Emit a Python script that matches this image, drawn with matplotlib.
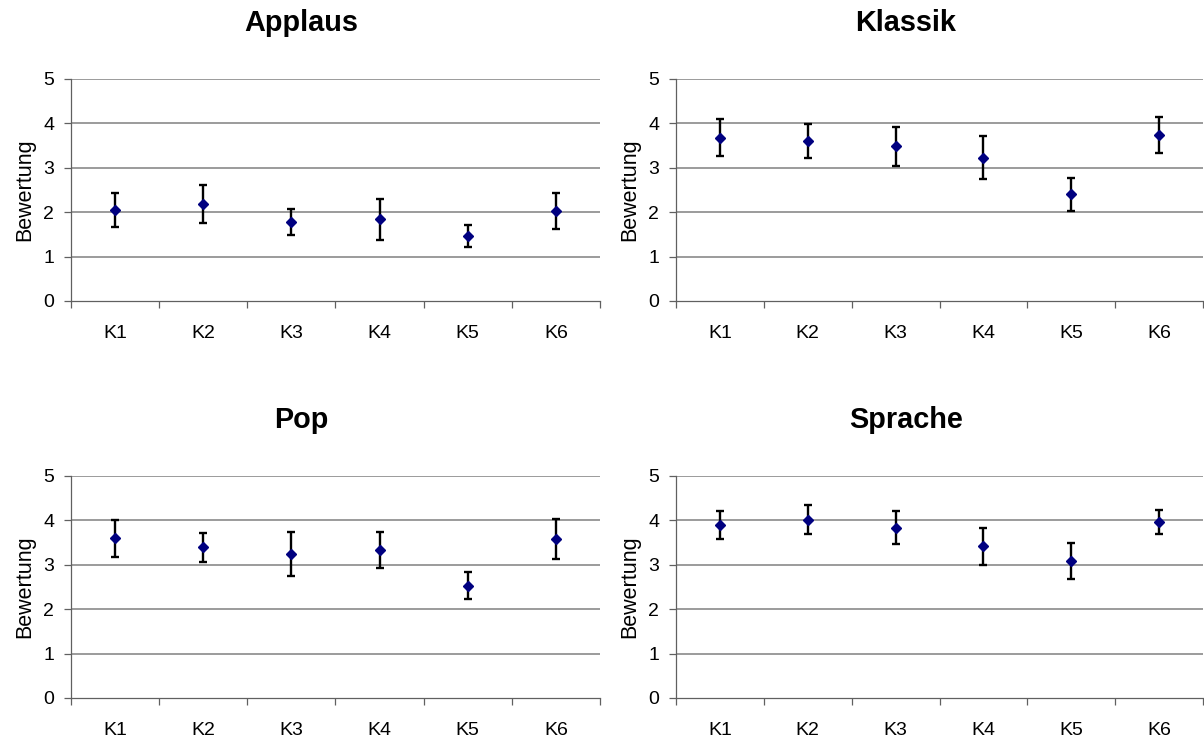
import matplotlib
matplotlib.use("Agg")
import matplotlib.pyplot as plt
import numpy as np

plt.rcParams['font.family'] = ['Liberation Sans', 'DejaVu Sans']

categories = ["K1", "K2", "K3", "K4", "K5", "K6"]
titles = ["Applaus", "Klassik", "Pop", "Sprache"]

applaus_mean = [2.05, 2.18, 1.78, 1.84, 1.47, 2.03]
applaus_err = [0.39, 0.43, 0.30, 0.46, 0.25, 0.41]
klassik_mean = [3.68, 3.60, 3.49, 3.23, 2.40, 3.74]
klassik_err = [0.41, 0.39, 0.44, 0.48, 0.37, 0.41]
pop_mean = [3.60, 3.39, 3.24, 3.33, 2.53, 3.58]
pop_err = [0.42, 0.32, 0.50, 0.41, 0.30, 0.46]
sprache_mean = [3.90, 4.02, 3.84, 3.42, 3.09, 3.97]
sprache_err = [0.31, 0.32, 0.37, 0.42, 0.40, 0.27]

means = [applaus_mean, klassik_mean, pop_mean, sprache_mean]
errs = [applaus_err, klassik_err, pop_err, sprache_err]

W, H = 1204, 740
fig = plt.figure(figsize=(W / 100, H / 100), dpi=100)

# axes rectangles in pixels: (left, top, right, bottom)
rects = [(71, 79, 600, 301), (676, 79, 1203, 301),
         (71, 476, 600, 698), (676, 476, 1203, 698)]
title_pos = [(301, 23), (906, 23), (301, 420), (906, 420)]

for i in range(4):
    l, t, r, b = rects[i]
    ax = fig.add_axes([l / W, 1 - b / H, (r - l) / W, (b - t) / H])
    x = np.arange(len(categories))
    ax.errorbar(x, means[i], yerr=errs[i], fmt='none', ecolor='black',
                elinewidth=1.7, capsize=3, capthick=1.7, zorder=3)
    ax.plot(x, means[i], linestyle='none', marker='D', markersize=5.5,
            color='#000080', zorder=4)
    ax.set_xlim(-0.5, len(categories) - 0.5)
    ax.set_ylim(0, 5)
    ax.set_yticks(range(0, 6))
    ax.set_xticks(x)
    ax.set_xticklabels(categories)
    ax.set_xticks(np.arange(-0.5, len(categories), 1.0), minor=True)
    ax.tick_params(axis='x', which='major', length=0, pad=17, labelsize=14)
    ax.tick_params(axis='x', which='minor', length=5, direction='out',
                   color='#606060', width=0.9)
    ax.tick_params(axis='y', length=5, direction='out', color='#606060',
                   width=0.9, pad=7, labelsize=14)
    for yv in range(1, 6):
        ax.axhline(yv, color='#808080', linewidth=1.1, zorder=1)
    for s in ['top', 'right']:
        ax.spines[s].set_visible(False)
    for s in ['left', 'bottom']:
        ax.spines[s].set_color('#606060')
        ax.spines[s].set_linewidth(0.9)
    ax.set_ylabel("Bewertung", fontsize=15.5, labelpad=6)
    tx, ty = title_pos[i]
    fig.text(tx / W, 1 - ty / H, titles[i], ha='center', va='center',
             fontsize=20.8, fontweight='bold')

fig.savefig("out.png", dpi=100)
